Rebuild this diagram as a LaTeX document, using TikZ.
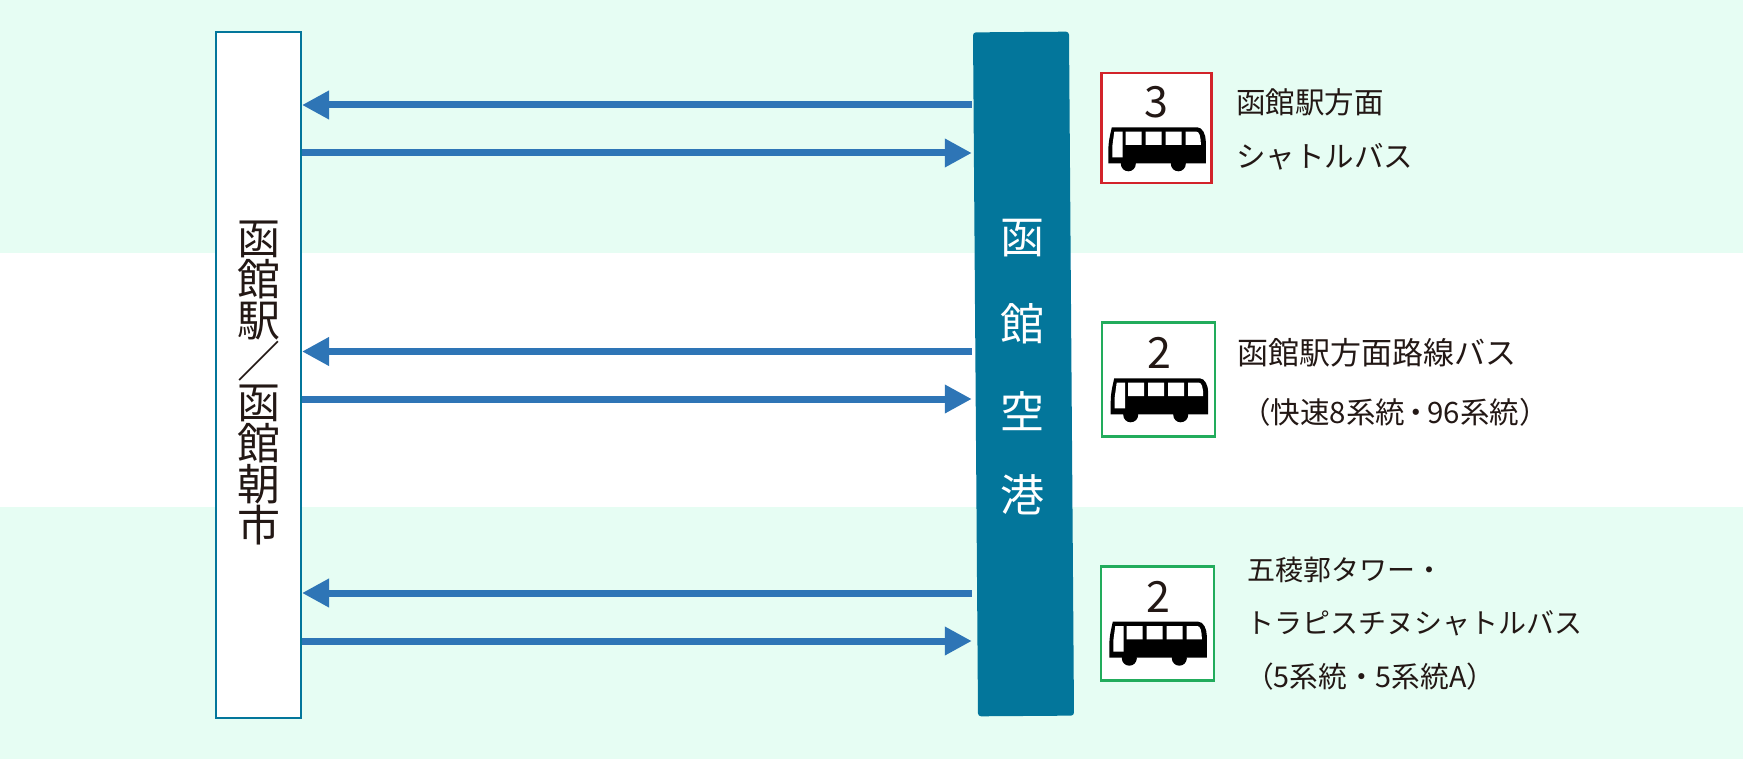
\documentclass[tikz,border=0pt]{standalone}
\usepackage{fontspec}
\setmainfont{Noto Sans CJK JP}
\usetikzlibrary{arrows.meta}
\definecolor{mint}{HTML}{E6FDF3}
\definecolor{lineblue}{HTML}{2E75B6}
\definecolor{portteal}{HTML}{03769B}
\definecolor{inkdark}{HTML}{231815}
\definecolor{badgered}{HTML}{D2232A}
\definecolor{badgegreen}{HTML}{22AC5C}
\tikzset{
  bus icon/.pic={
    \fill[black] (3.5,0) -- (89,0) .. controls (94,0) and (97.5,7) .. (97.5,14) -- (97.5,36)
      -- (0,36) -- (0,24) .. controls (0,14) and (2,7) .. (3.5,0) -- cycle;
    \fill[black] (20,36.5) circle (7.5) (70,36.5) circle (7.5);
    \fill[white] (6,4.3) -- (14.3,4.3) -- (14.3,30) -- (4,30) -- (4,19) -- cycle;
    \fill[white] (17.3,4.3) rectangle (33.3,17.7) (37.3,4.3) rectangle (53.3,17.7)
      (57.3,4.3) rectangle (73.3,17.7);
    \fill[white] (77.3,4.3) -- (88,4.3) .. controls (91,4.3) and (92.5,9) .. (92.5,17.7) -- (77.3,17.7) -- cycle;
  }
}
\begin{document}
\begin{tikzpicture}[x=1pt,y=-1pt,>={Triangle[length=27pt,width=27pt]},
  station node/.style={draw=portteal,line width=2pt,fill=white,minimum width=85pt,minimum height=686pt,inner sep=0pt},
  station text/.style={align=center,inner sep=0pt,text=inkdark,font=\fontsize{43}{41}\selectfont},
  airport node/.style={fill=portteal,rounded corners=3pt,minimum width=96pt,minimum height=684pt,inner sep=0pt,rotate=0.42},
  airport text/.style={text=white,inner sep=0pt,font=\fontsize{44}{44}\selectfont},
  badge node/.style={draw=#1,line width=2.5pt,fill=white,minimum width=113pt,minimum height=114pt,inner sep=0pt},
  count text/.style={text=inkdark,inner sep=0pt,font=\fontsize{43}{43}\selectfont},
  route text/.style={text=inkdark,anchor=west,inner sep=0pt,font=\fontsize{#1}{34}\selectfont},
  route text/.default=29.5,
  bus line/.style={->,draw=lineblue,fill=lineblue,line width=7pt}]
  \useasboundingbox (0,0) rectangle (1743,759);
  \fill[mint] (0,0) rectangle (1743,253);
  \fill[mint] (0,507) rectangle (1743,759);

  \node[station node] (station) at (258.5,375) {};
  \node[station text] (stationname) at (259,383) {函\\館\\駅\\／\\函\\館\\朝\\市};
  \node[airport node] (airport) at (1023.5,374) {};
  \node[airport text] (port1) at (1022,238) {函};
  \node[airport text] (port2) at (1022,324) {館};
  \node[airport text] (port3) at (1022,411) {空};
  \node[airport text] (port4) at (1022,495) {港};

  \coordinate (r1) at (0,105);
  \coordinate (r2) at (0,153);
  \coordinate (r3) at (0,351.5);
  \coordinate (r4) at (0,399);
  \coordinate (r5) at (0,593);
  \coordinate (r6) at (0,641);
  \draw[bus line,shorten <=3.5pt] (airport.west |- r1) -- (station.east |- r1);
  \draw[bus line,shorten >=3.5pt] (station.east |- r2) -- (airport.west |- r2);
  \draw[bus line,shorten <=3.5pt] (airport.west |- r3) -- (station.east |- r3);
  \draw[bus line,shorten >=3.5pt] (station.east |- r4) -- (airport.west |- r4);
  \draw[bus line,shorten <=3.5pt] (airport.west |- r5) -- (station.east |- r5);
  \draw[bus line,shorten >=3.5pt] (station.east |- r6) -- (airport.west |- r6);

  \node[badge node=badgered,minimum width=110pt,minimum height=110pt] (badge1) at (1156.7,128) {};
  \node[count text] (count1) at (1156,102) {3};
  \pic (bus1) at (1108.3,127.3) {bus icon};
  \node[route text] (label1) at (1236,102) {函館駅方面};
  \node[route text] (label2) at (1236,157) {シャトルバス};

  \node[badge node=badgegreen] (badge2) at (1158.5,379.5) {};
  \node[count text] (count2) at (1159,353) {2};
  \pic (bus2) at (1110.7,378.3) {bus icon};
  \node[route text=31] (label3) at (1237,353) {函館駅方面路線バス};
  \node[route text=29.5] (label4) at (1241,412) {（快速8系統\hspace{-3.5pt}・\hspace{-3.5pt}96系統）};

  \node[badge node=badgegreen] (badge3) at (1157.5,623.3) {};
  \node[count text] (count3) at (1158,597) {2};
  \pic (bus3) at (1109.3,621.7) {bus icon};
  \node[route text=28] (label5) at (1247,570) {五稜郭タワー・};
  \node[route text=28] (label6) at (1246,623) {トラピスチヌシャトルバス};
  \node[route text=28.7] (label7) at (1245,677) {（5系統・5系統A）};
\end{tikzpicture}
\end{document}
